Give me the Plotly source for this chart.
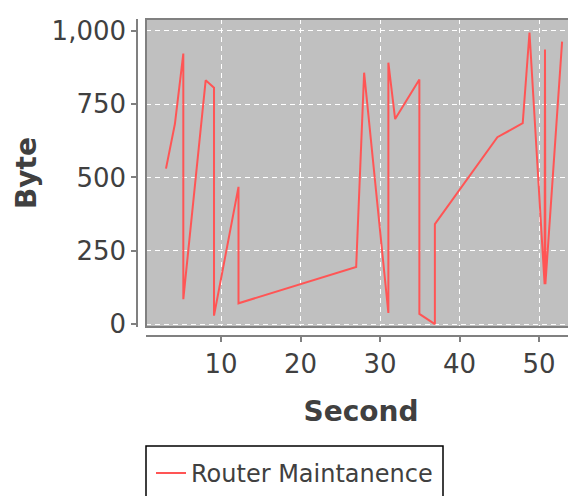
import plotly.graph_objects as go

# data (seconds, bytes)
seconds = [3.08, 4.2, 5.26, 5.26, 8.07, 9.12, 9.12, 12.2, 12.2, 27.0, 28.0, 31.05, 31.05, 31.9,
           34.95, 34.95, 36.9, 36.9, 44.76, 47.95, 48.8, 50.7, 50.75, 50.8, 52.9]
bytes_ = [530, 682, 922, 85, 831, 806, 29, 468, 71, 195, 857, 38, 891, 699,
          834, 35, 0, 341, 637, 685, 994, 136, 936, 136, 963]
series_name = "Router Maintanence"
x_ticks = [10, 20, 30, 40, 50]
y_ticks = [0, 250, 500, 750, 1000]

FONT = "DejaVu Sans"
TXT = "#404040"
AX = "#808080"

OFF = 8  # page body margin
W, H = 576 - OFF, 496 - OFF
# page-pixel positions of the axes / plot area
AX_X, AX_Y = 137, 339
PLOT_L, PLOT_B, PLOT_T = 146, 330, 19
ML = AX_X - OFF
MT = PLOT_T - OFF
MB = H - (AX_Y - OFF)
MR = 0
pw = W - ML - MR
ph = H - MT - MB

def px_x(p):
    return (p - AX_X) / pw

def px_y(p):
    return (AX_Y - p) / ph

fig = go.Figure()
fig.add_trace(go.Scatter(x=seconds, y=bytes_, mode="lines", name=series_name,
                         line=dict(color="#FF5555", width=2)))

fig.update_layout(
    width=W, height=H,
    margin=dict(l=ML, r=MR, t=MT, b=MB, pad=0),
    paper_bgcolor="white",
    plot_bgcolor="#C0C0C0",
    font=dict(family=FONT, color=TXT),
    showlegend=True,
    legend=dict(x=px_x(151), y=px_y(455), xanchor="left", yanchor="top",
                bgcolor="rgba(0,0,0,0)", borderwidth=0,
                font=dict(size=24, color=TXT, family=FONT)),
    xaxis=dict(domain=[px_x(PLOT_L), 1], range=[0.566, 54.65], anchor="free", position=0,
               tickvals=x_ticks, ticks="outside", ticklen=5, tickcolor=AX, tickwidth=1.5,
               showline=True, linecolor=AX, linewidth=1.5,
               showgrid=True, gridcolor="white", gridwidth=1, griddash="5px,4px",
               zeroline=False, tickfont=dict(size=26, color=TXT, family=FONT),
               title=dict(text="<b>Second</b>", font=dict(size=28, color=TXT, family=FONT), standoff=22)),
    yaxis=dict(domain=[px_y(PLOT_B), 1], range=[-10, 1040], anchor="free", position=0,
               tickvals=y_ticks, tickformat=",d", ticks="outside", ticklen=5, tickcolor=AX, tickwidth=1.5,
               showline=True, linecolor=AX, linewidth=1.5, ticklabelstandoff=0,
               showgrid=True, gridcolor="white", gridwidth=1, griddash="5px,4px",
               zeroline=False, tickfont=dict(size=26, color=TXT, family=FONT),
               title=dict(text="<b>Byte</b>", font=dict(size=28, color=TXT, family=FONT), standoff=6)),
    shapes=[
        dict(type="rect", xref="x domain", yref="y domain", x0=0, x1=1.05, y0=0, y1=1,
             line=dict(color=AX, width=2), fillcolor="rgba(0,0,0,0)", layer="above"),
        dict(type="rect", xref="paper", yref="paper", x0=px_x(146), x1=px_x(443),
             y0=px_y(520), y1=px_y(450), line=dict(color="black", width=1.5),
             fillcolor="rgba(0,0,0,0)"),
    ],
)

fig.write_html("out.html")
